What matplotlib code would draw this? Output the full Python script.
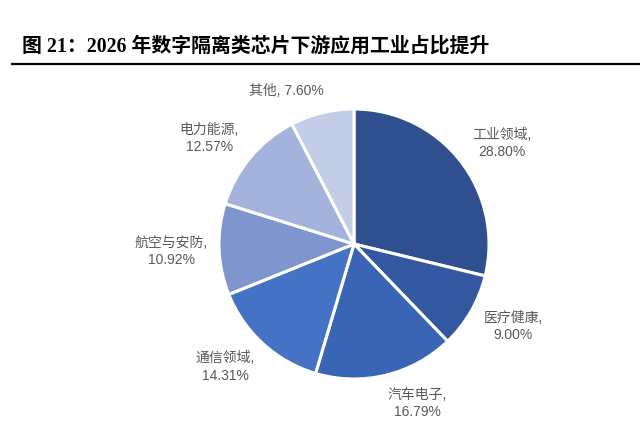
import numpy as np
import matplotlib
matplotlib.use("Agg")
import matplotlib.pyplot as plt

plt.rcParams['font.family'] = ['Liberation Sans', 'Noto Sans CJK SC', 'DejaVu Sans']

# data
categories = ["工业领域", "医疗健康", "汽车电子", "通信领域", "航空与安防", "电力能源", "其他"]
shares = [28.80, 9.00, 16.79, 14.31, 10.92, 12.57, 7.60]
colors = ["#2F4F8E", "#3358A1", "#3A64B4", "#4472C4", "#7E95CE", "#A4B3DB", "#C4CDE7"]
# small angle shifts (degrees) for the label placement, like Excel's best fit
label_shift = [-4, 2.5, 8, -4, 0, 4, 10]
title = "图 21：2026 年数字隔离类芯片下游应用工业占比提升"

W, H = 640, 424
fig = plt.figure(figsize=(W / 100, H / 100), dpi=100)
ax = fig.add_axes([0, 0, 1, 1])

cx, cy, r = 354, H - 244, 135
wedges, _ = ax.pie(shares, colors=colors, startangle=90, counterclock=False,
                   radius=r, center=(cx, cy), frame=True,
                   wedgeprops=dict(edgecolor="white", linewidth=2.2))
ax.set_xlim(0, W)
ax.set_ylim(0, H)
ax.set_aspect("equal")
ax.axis("off")

renderer = fig.canvas.get_renderer()
for w, name, v, sh in zip(wedges, categories, shares, label_shift):
    ang = np.deg2rad((w.theta1 + w.theta2) / 2 + sh)
    c, s = np.cos(ang), np.sin(ang)
    if name == "其他":
        txt = f"{name}, {v:.2f}%"
    else:
        txt = f"{name},\n{v:.2f}%"
    t = ax.text(cx, cy, txt, ha="center", va="center",
                fontsize=10, color="#595959", linespacing=1.3)
    bb = t.get_window_extent(renderer)
    hw, hh = bb.width / 2, bb.height / 2
    d = r * 1.08 + hw * abs(c) + hh * abs(s)
    t.set_position((cx + d * c, cy + d * s))

fig.text(22 / W, 1 - 47 / H, title, fontsize=14.3, fontweight="bold",
         family=['Liberation Serif', 'Noto Sans CJK SC'], va="center", ha="left")
fig.add_artist(plt.Line2D([12 / W, 1], [1 - 64 / H, 1 - 64 / H],
                          color="black", linewidth=1.6, transform=fig.transFigure))

fig.savefig("out.png", dpi=100)
